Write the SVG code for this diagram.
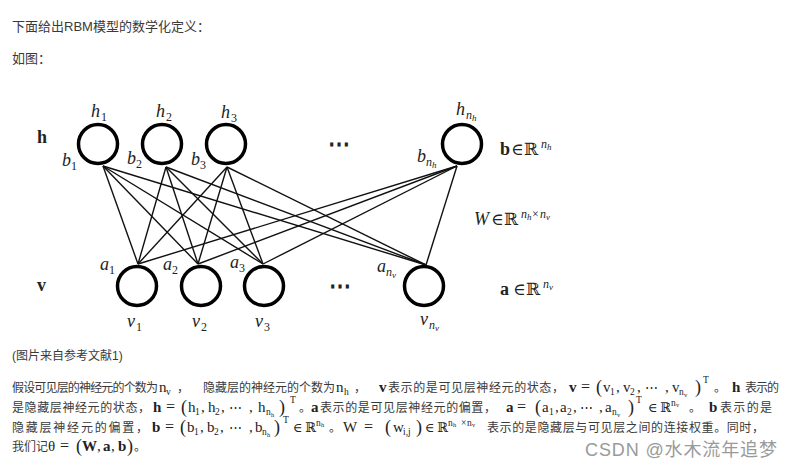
<svg xmlns="http://www.w3.org/2000/svg" width="792" height="468" viewBox="0 0 792 468">
<style>
.cn{font-family:"Liberation Sans","Noto Sans CJK SC",sans-serif;font-size:12px;fill:#3a3a3a}
.top{font-size:13px}
.m{font-family:"Liberation Serif","DejaVu Serif",serif;font-size:15px;fill:#222}
.b{font-weight:bold}
.eq{font-size:16px}
.par{font-size:18px}
.s{font-family:"Liberation Serif","DejaVu Serif",serif;font-size:9.5px;fill:#222}
.ss{font-family:"Liberation Serif","DejaVu Serif",serif;font-size:6.5px;fill:#222}
.dots{font-family:"DejaVu Serif",serif;font-size:13px;fill:#222}
.dl{font-family:"Liberation Serif","DejaVu Serif",serif;font-size:18px;font-style:italic;fill:#222}
.dlb{font-family:"Liberation Serif","DejaVu Serif",serif;font-size:18px;font-weight:bold;fill:#222}
.dr{font-family:"DejaVu Serif",serif;font-size:17px;fill:#222}
.dsub{font-family:"Liberation Serif","DejaVu Serif",serif;font-size:12px;fill:#222}
.dsi{font-family:"Liberation Serif","DejaVu Serif",serif;font-size:12px;font-style:italic;fill:#222}
.dss{font-family:"Liberation Serif","DejaVu Serif",serif;font-size:9px;font-style:italic;fill:#222}
.ddots{font-family:"DejaVu Serif",serif;font-size:22px;font-weight:bold;fill:#222}
.node{fill:#fff;stroke:#000;stroke-width:3.5}
.edge{stroke:#111;stroke-width:1.4;fill:none}
.wm{font-family:"Liberation Sans","Noto Sans CJK SC",sans-serif;font-size:18px;fill:#9a9a9a}
</style>

<text class="cn top" x="12" y="31">下面给出RBM模型的数学化定义：</text>
<text class="cn top" x="12" y="63">如图：</text>

<g id="connectors">
<line class="edge" x1="103" y1="166" x2="138" y2="264"/>
<line class="edge" x1="103" y1="166" x2="198" y2="264"/>
<line class="edge" x1="103" y1="166" x2="263" y2="264"/>
<line class="edge" x1="103" y1="166" x2="426" y2="265"/>
<line class="edge" x1="166" y1="167" x2="138" y2="264"/>
<line class="edge" x1="166" y1="167" x2="198" y2="264"/>
<line class="edge" x1="166" y1="167" x2="263" y2="264"/>
<line class="edge" x1="166" y1="167" x2="426" y2="265"/>
<line class="edge" x1="227" y1="167" x2="138" y2="264"/>
<line class="edge" x1="227" y1="167" x2="198" y2="264"/>
<line class="edge" x1="227" y1="167" x2="263" y2="264"/>
<line class="edge" x1="227" y1="167" x2="426" y2="265"/>
<line class="edge" x1="457" y1="166" x2="138" y2="264"/>
<line class="edge" x1="457" y1="166" x2="198" y2="264"/>
<line class="edge" x1="457" y1="166" x2="263" y2="264"/>
<line class="edge" x1="457" y1="166" x2="426" y2="265"/>
</g>

<g id="layer-h-label"><text class="dlb" x="37" y="143">h</text></g>
<g id="layer-v-label"><text class="dlb" x="37" y="291">v</text></g>

<g id="h1">
<circle class="node" cx="98" cy="144" r="19.5"/>
<text class="dl" x="91" y="117">h</text><text class="dsub" x="101" y="121">1</text>
<text class="dl" x="62" y="166">b</text><text class="dsub" x="71" y="170">1</text>
</g>
<g id="h2">
<circle class="node" cx="162" cy="144" r="19.5"/>
<text class="dl" x="156" y="117">h</text><text class="dsub" x="166" y="121">2</text>
<text class="dl" x="127" y="164">b</text><text class="dsub" x="136" y="168">2</text>
</g>
<g id="h3">
<circle class="node" cx="226" cy="144" r="19.5"/>
<text class="dl" x="221" y="118">h</text><text class="dsub" x="231" y="122">3</text>
<text class="dl" x="191" y="165">b</text><text class="dsub" x="200" y="169">3</text>
</g>
<g id="hdots"><text class="ddots" x="339" y="151" text-anchor="middle">⋯</text></g>
<g id="hnh">
<circle class="node" cx="462" cy="144" r="19.5"/>
<text class="dl" x="456" y="115">h</text><text class="dsi" x="466" y="119">n</text><text class="dss" x="472" y="121">h</text>
<text class="dl" x="417" y="162">b</text><text class="dsi" x="426" y="166">n</text><text class="dss" x="432" y="168">h</text>
</g>

<g id="bvec">
<text class="dlb" x="500" y="155">b</text><text class="dr" x="511" y="155">∈</text><text class="dr" x="524" y="155">ℝ</text>
<text class="dsi" x="541" y="148">n</text><text class="dss" x="547" y="150">h</text>
</g>
<g id="wmat">
<text class="dl" x="474" y="225">W</text><text class="dr" x="491" y="225">∈</text><text class="dr" x="504" y="225">ℝ</text>
<text class="dsi" x="521" y="218">n</text><text class="dss" x="527" y="220">h</text><text class="dsub" x="532" y="218">×</text><text class="dsi" x="540" y="218">n</text><text class="dss" x="546" y="220">v</text>
</g>
<g id="avec">
<text class="dlb" x="500" y="295">a</text><text class="dr" x="513" y="295">∈</text><text class="dr" x="526" y="295">ℝ</text>
<text class="dsi" x="543" y="288">n</text><text class="dss" x="549" y="290">v</text>
</g>

<g id="v1">
<circle class="node" cx="137" cy="286" r="19.5"/>
<text class="dl" x="100" y="270">a</text><text class="dsub" x="109" y="274">1</text>
<text class="dl" x="127" y="327">v</text><text class="dsub" x="136" y="331">1</text>
</g>
<g id="v2">
<circle class="node" cx="201" cy="286" r="19.5"/>
<text class="dl" x="163" y="270">a</text><text class="dsub" x="172" y="274">2</text>
<text class="dl" x="192" y="327">v</text><text class="dsub" x="201" y="331">2</text>
</g>
<g id="v3">
<circle class="node" cx="264" cy="286" r="19.5"/>
<text class="dl" x="230" y="268">a</text><text class="dsub" x="239" y="272">3</text>
<text class="dl" x="255" y="327">v</text><text class="dsub" x="264" y="331">3</text>
</g>
<g id="vdots"><text class="ddots" x="340" y="293" text-anchor="middle">⋯</text></g>
<g id="vnv">
<circle class="node" cx="424" cy="286" r="19.5"/>
<text class="dl" x="377" y="272">a</text><text class="dsi" x="386" y="276">n</text><text class="dss" x="392" y="278">v</text>
<text class="dl" x="420" y="325">v</text><text class="dsi" x="429" y="329">n</text><text class="dss" x="435" y="331">v</text>
</g>

<text class="cn" x="12" y="360" font-size="12.5">(图片来自参考文献1)</text>

<g id="line1">
<text class="cn" x="12" y="392" textLength="146">假设可见层的神经元的个数为</text>
<text class="m" x="159" y="392">n</text><text class="s" x="166" y="395">v</text>
<text class="cn" x="177" y="392">，</text>
<text class="cn" x="203" y="392" textLength="132">隐藏层的神经元的个数为</text>
<text class="m" x="336" y="392">n</text><text class="s" x="344" y="395">h</text>
<text class="cn" x="354" y="392">，</text>
<text class="m b" x="379" y="392">v</text>
<text class="cn" x="388" y="392" textLength="176">表示的是可见层神经元的状态，</text>
<text class="m b" x="569" y="392">v</text>
<text class="m eq" x="581" y="392">=</text>
<text class="m par" x="596" y="393">(</text>
<text class="m" x="603" y="392">v</text><text class="s" x="610" y="395">1</text>
<text class="m" x="616" y="392">,</text>
<text class="m" x="623" y="392">v</text><text class="s" x="630" y="395">2</text>
<text class="m" x="637" y="392">,</text>
<text class="dots" x="645" y="392">⋯</text>
<text class="m" x="665" y="392">,</text>
<text class="m" x="672" y="392">v</text><text class="s" x="679" y="395">n</text><text class="ss" x="684" y="397">v</text>
<text class="m par" x="695" y="393">)</text>
<text class="s" x="703" y="383">T</text>
<text class="cn" x="714" y="392">。</text>
<text class="m b" x="732" y="392">h</text>
<text class="cn" x="745" y="392" textLength="34">表示的</text>
</g>

<g id="line2">
<text class="cn" x="12" y="412" textLength="138">是隐藏层神经元的状态，</text>
<text class="m b" x="153" y="412">h</text>
<text class="m eq" x="166" y="412">=</text>
<text class="m par" x="181" y="413">(</text>
<text class="m" x="188" y="412">h</text><text class="s" x="195" y="415">1</text>
<text class="m" x="201" y="412">,</text>
<text class="m" x="208" y="412">h</text><text class="s" x="215" y="415">2</text>
<text class="m" x="221" y="412">,</text>
<text class="dots" x="229" y="412">⋯</text>
<text class="m" x="249" y="412">,</text>
<text class="m" x="258" y="412">h</text><text class="s" x="266" y="415">n</text><text class="ss" x="271" y="417">h</text>
<text class="m par" x="279" y="413">)</text>
<text class="s" x="290" y="403">T</text>
<text class="cn" x="299" y="412">。</text>
<text class="m b" x="311" y="412">a</text>
<text class="cn" x="320" y="412" textLength="176">表示的是可见层神经元的偏置，</text>
<text class="m b" x="506" y="412">a</text>
<text class="m eq" x="517" y="412">=</text>
<text class="m par" x="535" y="413">(</text>
<text class="m" x="542" y="412">a</text><text class="s" x="549" y="415">1</text>
<text class="m" x="555" y="412">,</text>
<text class="m" x="560" y="412">a</text><text class="s" x="567" y="415">2</text>
<text class="m" x="573" y="412">,</text>
<text class="dots" x="580" y="412">⋯</text>
<text class="m" x="599" y="412">,</text>
<text class="m" x="605" y="412">a</text><text class="s" x="612" y="415">n</text><text class="ss" x="617" y="417">v</text>
<text class="m par" x="628" y="413">)</text>
<text class="s" x="636" y="403">T</text>
<text class="dots" x="648" y="412">∈</text>
<text class="dots" x="660" y="412">ℝ</text>
<text class="s" x="671" y="406">n</text><text class="ss" x="676" y="407">v</text>
<text class="cn" x="689" y="412">。</text>
<text class="m b" x="709" y="412">b</text>
<text class="cn" x="720" y="412" textLength="52">表示的是</text>
</g>

<g id="line3">
<text class="cn" x="12" y="432" textLength="136">隐藏层神经元的偏置，</text>
<text class="m b" x="152" y="432">b</text>
<text class="m eq" x="165" y="432">=</text>
<text class="m par" x="180" y="433">(</text>
<text class="m" x="187" y="432">b</text><text class="s" x="194" y="435">1</text>
<text class="m" x="200" y="432">,</text>
<text class="m" x="207" y="432">b</text><text class="s" x="214" y="435">2</text>
<text class="m" x="220" y="432">,</text>
<text class="dots" x="229" y="432">⋯</text>
<text class="m" x="249" y="432">,</text>
<text class="m" x="255" y="432">b</text><text class="s" x="262" y="435">n</text><text class="ss" x="267" y="437">h</text>
<text class="m par" x="274" y="433">)</text>
<text class="s" x="283" y="423">T</text>
<text class="dots" x="293" y="432">∈</text>
<text class="dots" x="305" y="432">ℝ</text>
<text class="s" x="316" y="426">n</text><text class="ss" x="321" y="427">h</text>
<text class="cn" x="329" y="432">。</text>
<text class="m" x="343" y="432">W</text>
<text class="m eq" x="364" y="432">=</text>
<text class="m par" x="385" y="433">(</text>
<text class="m" x="393" y="432">w</text><text class="s" x="403" y="435">i,j</text>
<text class="m par" x="416" y="433">)</text>
<text class="dots" x="425" y="432">∈</text>
<text class="dots" x="437" y="432">ℝ</text>
<text class="s" x="448" y="426">n</text><text class="ss" x="453" y="427">h</text><text class="s" x="461" y="426">×</text><text class="s" x="467" y="426">n</text><text class="ss" x="472" y="427">v</text>
<text class="cn" x="487" y="432" textLength="277">表示的是隐藏层与可见层之间的连接权重。同时，</text>
</g>

<g id="line4">
<text class="cn" x="12" y="451" textLength="36">我们记</text>
<text class="m" x="48" y="451">θ</text>
<text class="m eq" x="60" y="451">=</text>
<text class="m par" x="76" y="452">(</text>
<text class="m b" x="82" y="451">W</text>
<text class="m" x="97" y="451">,</text>
<text class="m b" x="103" y="451">a</text>
<text class="m" x="111" y="451">,</text>
<text class="m b" x="118" y="451">b</text>
<text class="m par" x="127" y="452">)</text>
<text class="cn" x="134" y="451">。</text>
</g>

<text class="wm" x="585" y="456" textLength="192">CSDN @水木流年追梦</text>
</svg>
